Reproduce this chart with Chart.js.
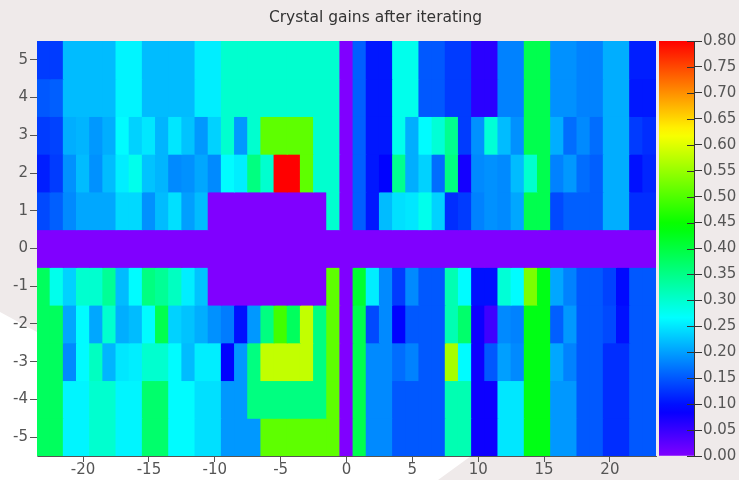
<!DOCTYPE html>
<html>
<head>
<meta charset="utf-8">
<title>Crystal gains after iterating</title>
<script src="https://cdn.jsdelivr.net/npm/chart.js@4.4.1/dist/chart.umd.min.js"></script>
<style>
  html, body { margin: 0; padding: 0; background: #efeaea; }
  #wrap { position: relative; width: 739px; height: 480px; overflow: hidden; }
  #gains { position: absolute; left: 0; top: 0; }
  #scale { position: absolute; left: 650px; top: 0; }
</style>
</head>
<body>
<div id="wrap">
  <canvas id="gains" width="739" height="480"></canvas>
  <canvas id="scale" width="89" height="480"></canvas>
</div>
<script>
// crystal columns (x) and rows (y)
const cols = [-23, -22, -21, -20, -19, -18, -17, -16, -15, -14, -13, -12,
  -11, -10, -9, -8, -7, -6, -5, -4, -3, -2, -1, 0,
  1, 2, 3, 4, 5, 6, 7, 8, 9, 10, 11, 12, 13, 14, 15, 16, 17, 18, 19, 20, 21, 22, 23];
const rows = [5, 4, 3, 2, 1, 0, -1, -2, -3, -4, -5];

const xTicks = [-20, -15, -10, -5, 0, 5, 10, 15, 20];
const yTicks = [-5, -4, -3, -2, -1, 0, 1, 2, 3, 4, 5];
const scaleTicks = [0, 0.05, 0.1, 0.15, 0.2, 0.25, 0.3, 0.35, 0.4,
  0.45, 0.5, 0.55, 0.6, 0.65, 0.7, 0.75, 0.8];
const gainMax = 0.8;

// gains per row, columns -23 .. 23
const gainsRow5 = [0.13, 0.13, 0.22, 0.22, 0.22, 0.22, 0.26, 0.26, 0.22, 0.22, 0.22, 0.22,
  0.255, 0.255, 0.3, 0.3, 0.3, 0.3, 0.3, 0.3, 0.3, 0.3, 0.3, 0,
  0.155, 0.105, 0.105, 0.28, 0.28, 0.15, 0.15, 0.13, 0.13, 0.06, 0.06,
  0.18, 0.18, 0.39, 0.39, 0.19, 0.19, 0.18, 0.18, 0.21, 0.21, 0.11, 0.11];
const gainsRow4 = [0.15, 0.155, 0.22, 0.22, 0.22, 0.22, 0.26, 0.26, 0.22, 0.22, 0.22, 0.22,
  0.255, 0.255, 0.3, 0.3, 0.3, 0.3, 0.3, 0.3, 0.3, 0.3, 0.3, 0,
  0.155, 0.105, 0.105, 0.28, 0.28, 0.15, 0.15, 0.13, 0.13, 0.06, 0.06,
  0.18, 0.18, 0.39, 0.39, 0.19, 0.19, 0.18, 0.18, 0.21, 0.21, 0.105, 0.105];
const gainsRow3 = [0.13, 0.135, 0.21, 0.215, 0.195, 0.21, 0.265, 0.235, 0.25, 0.215, 0.25, 0.225,
  0.195, 0.235, 0.3, 0.195, 0.3, 0.51, 0.51, 0.51, 0.51, 0.3, 0.3, 0,
  0.155, 0.105, 0.105, 0.28, 0.21, 0.265, 0.295, 0.345, 0.13, 0.19, 0.295,
  0.22, 0.19, 0.39, 0.39, 0.21, 0.165, 0.185, 0.165, 0.21, 0.21, 0.13, 0.12];
const gainsRow2 = [0.11, 0.13, 0.19, 0.22, 0.19, 0.22, 0.255, 0.28, 0.225, 0.215, 0.185, 0.19,
  0.205, 0.185, 0.265, 0.255, 0.355, 0.3, 0.8, 0.8, 0.51, 0.3, 0.3, 0,
  0.155, 0.105, 0.09, 0.345, 0.21, 0.235, 0.165, 0.355, 0.075, 0.185, 0.19,
  0.185, 0.22, 0.3, 0.39, 0.18, 0.195, 0.165, 0.155, 0.21, 0.21, 0.1, 0.115];
const gainsRow1 = [0.14, 0.155, 0.185, 0.205, 0.205, 0.205, 0.24, 0.24, 0.19, 0.22, 0.245, 0.2,
  0.22, 0, 0, 0, 0, 0, 0, 0, 0, 0, 0.3, 0,
  0.155, 0.105, 0.22, 0.245, 0.25, 0.28, 0.235, 0.12, 0.13, 0.18, 0.19,
  0.185, 0.205, 0.39, 0.39, 0.14, 0.155, 0.155, 0.155, 0.21, 0.21, 0.12, 0.12];
const gainsRow0 = [0, 0, 0, 0, 0, 0, 0, 0, 0, 0, 0, 0,
  0, 0, 0, 0, 0, 0, 0, 0, 0, 0, 0, 0,
  0, 0, 0, 0, 0, 0, 0, 0, 0, 0, 0,
  0, 0, 0, 0, 0, 0, 0, 0, 0, 0, 0, 0];
const gainsRowM1 = [0.38, 0.28, 0.235, 0.3, 0.3, 0.34, 0.22, 0.265, 0.355, 0.34, 0.31, 0.255,
  0.225, 0, 0, 0, 0, 0, 0, 0, 0, 0, 0.51, 0,
  0.41, 0.255, 0.185, 0.13, 0.185, 0.15, 0.15, 0.32, 0.265, 0.1, 0.1,
  0.295, 0.265, 0.53, 0.43, 0.205, 0.18, 0.15, 0.15, 0.135, 0.095, 0.15, 0.15];
const gainsRowM2 = [0.38, 0.38, 0.205, 0.265, 0.205, 0.3, 0.21, 0.22, 0.265, 0.39, 0.235, 0.225,
  0.21, 0.19, 0.175, 0.1, 0.195, 0.355, 0.49, 0.38, 0.58, 0.355, 0.51, 0,
  0.39, 0.14, 0.185, 0.09, 0.15, 0.15, 0.15, 0.32, 0.37, 0.08, 0.045,
  0.185, 0.18, 0.43, 0.43, 0.155, 0.195, 0.15, 0.15, 0.14, 0.1, 0.15, 0.15];
const gainsRowM3 = [0.38, 0.38, 0.185, 0.265, 0.31, 0.215, 0.25, 0.255, 0.3, 0.3, 0.265, 0.22,
  0.255, 0.255, 0.09, 0.195, 0.355, 0.58, 0.58, 0.58, 0.58, 0.355, 0.51, 0,
  0.39, 0.185, 0.185, 0.165, 0.18, 0.15, 0.15, 0.56, 0.265, 0.08, 0.15,
  0.2, 0.185, 0.43, 0.43, 0.205, 0.18, 0.15, 0.15, 0.12, 0.12, 0.15, 0.15];
const gainsRowM4 = [0.38, 0.38, 0.26, 0.26, 0.3, 0.3, 0.26, 0.26, 0.37, 0.37, 0.265, 0.265,
  0.245, 0.245, 0.195, 0.195, 0.355, 0.355, 0.355, 0.355, 0.355, 0.355, 0.51, 0,
  0.39, 0.185, 0.185, 0.15, 0.15, 0.15, 0.15, 0.32, 0.32, 0.08, 0.08,
  0.25, 0.25, 0.43, 0.43, 0.195, 0.195, 0.15, 0.15, 0.12, 0.12, 0.15, 0.15];
const gainsRowM5 = [0.38, 0.38, 0.26, 0.26, 0.3, 0.3, 0.26, 0.26, 0.37, 0.37, 0.265, 0.265,
  0.245, 0.245, 0.195, 0.195, 0.195, 0.51, 0.51, 0.51, 0.51, 0.51, 0.51, 0,
  0.39, 0.185, 0.185, 0.15, 0.15, 0.15, 0.15, 0.32, 0.32, 0.08, 0.08,
  0.25, 0.25, 0.43, 0.43, 0.195, 0.195, 0.15, 0.15, 0.12, 0.12, 0.15, 0.15];

const rowGains = [gainsRow5, gainsRow4, gainsRow3, gainsRow2, gainsRow1, gainsRow0,
  gainsRowM1, gainsRowM2, gainsRowM3, gainsRowM4, gainsRowM5];

Chart.defaults.font.family = "'DejaVu Sans', sans-serif";
Chart.defaults.font.size = 15;
Chart.defaults.color = '#555';
Chart.defaults.animation = false;

// purple (0) -> blue -> cyan -> green -> yellow -> red (0.8)
function gainColor(v) {
  const t = Math.min(Math.max(v / gainMax, 0), 1);
  return 'hsl(' + (270 * (1 - t)).toFixed(1) + ', 100%, 50%)';
}

// light sheet behind the plot, bottom left
const paperBg = {
  id: 'paperBg',
  beforeDraw(chart) {
    const ctx = chart.ctx;
    ctx.save();
    ctx.fillStyle = '#ffffff';
    ctx.beginPath();
    ctx.moveTo(0, 312);
    ctx.lineTo(37, 332);
    ctx.lineTo(37, 456);
    ctx.lineTo(471, 456);
    ctx.lineTo(438, 480);
    ctx.lineTo(0, 480);
    ctx.closePath();
    ctx.fill();
    ctx.restore();
  },
};

const cellSets = rows.map((r, i) => ({
  label: 'y = ' + r,
  data: cols.map(x => ({ x: x, y: [r - 0.5, r + 0.5] })),
  backgroundColor: rowGains[i].map(gainColor),
  borderWidth: 0,
  grouped: false,
  barPercentage: 1,
  categoryPercentage: 1,
  inflateAmount: 0.5,
}));

new Chart(document.getElementById('gains'), {
  type: 'bar',
  data: { datasets: cellSets },
  options: {
    responsive: false,
    layout: { padding: { left: 12, right: 0, top: 0, bottom: 0 } },
    plugins: {
      legend: { display: false },
      tooltip: { enabled: false },
      title: {
        display: true,
        text: 'Crystal gains after iterating',
        color: '#333',
        font: { size: 15.5, weight: 'normal' },
        padding: { top: 8.7, bottom: 13.7 },
      },
    },
    scales: {
      x: {
        type: 'linear',
        min: -23.5,
        max: 23.5,
        offset: false,
        z: 1,
        afterBuildTicks: s => { s.ticks = xTicks.map(v => ({ value: v })); },
        afterFit: s => { s.height = 24; },
        grid: { offset: false, drawOnChartArea: false, tickLength: 6, color: '#555' },
        border: { color: '#555' },
        ticks: { autoSkip: false, maxRotation: 0, padding: 0, font: { lineHeight: 1.1 } },
      },
      y: {
        type: 'linear',
        min: -5.5,
        max: 5.5,
        z: 1,
        afterBuildTicks: s => { s.ticks = yTicks.map(v => ({ value: v })); },
        afterFit: s => { s.width = 25; },
        grid: { drawOnChartArea: false, tickLength: 7, color: '#555' },
        border: { color: '#999' },
        ticks: { padding: 2 },
      },
      pad: {
        type: 'linear',
        position: 'right',
        display: true,
        grid: { display: false },
        border: { display: false },
        ticks: { display: false },
        afterFit: s => { s.width = 83; },
      },
    },
  },
  plugins: [paperBg],
});

// colour scale
function scaleGradient(context) {
  const chart = context.chart;
  const y = chart.scales.y;
  if (!chart.chartArea || !y) return gainColor(0);
  const g = chart.ctx.createLinearGradient(0, y.getPixelForValue(0), 0, y.getPixelForValue(gainMax));
  for (let k = 0; k <= 48; k++) {
    g.addColorStop(k / 48, gainColor((k / 48) * gainMax));
  }
  return g;
}

const innerTicks = {
  id: 'innerTicks',
  afterDraw(chart) {
    const y = chart.scales.y;
    const ctx = chart.ctx;
    const right = chart.chartArea.right;
    ctx.save();
    ctx.strokeStyle = '#333';
    ctx.lineWidth = 1;
    y.ticks.forEach(t => {
      const py = Math.round(y.getPixelForValue(t.value)) + 0.5;
      ctx.beginPath();
      ctx.moveTo(right - 7, py);
      ctx.lineTo(right, py);
      ctx.stroke();
    });
    ctx.restore();
  },
};

new Chart(document.getElementById('scale'), {
  type: 'bar',
  data: {
    labels: ['gain'],
    datasets: [{
      data: [[0, gainMax]],
      backgroundColor: scaleGradient,
      borderWidth: 0,
      barPercentage: 1,
      categoryPercentage: 1,
    }],
  },
  options: {
    responsive: false,
    layout: { padding: { left: 9, top: 41, bottom: 24, right: 0 } },
    plugins: {
      legend: { display: false },
      tooltip: { enabled: false },
    },
    scales: {
      x: { display: false },
      y: {
        position: 'right',
        min: 0,
        max: gainMax,
        z: 1,
        afterBuildTicks: s => { s.ticks = scaleTicks.map(v => ({ value: v })); },
        afterFit: s => { s.width = 45; },
        grid: { drawOnChartArea: false, tickLength: 8, color: '#333' },
        border: { color: '#333' },
        ticks: { padding: 1, callback: v => v.toFixed(2) },
      },
    },
  },
  plugins: [innerTicks],
});
</script>
</body>
</html>
